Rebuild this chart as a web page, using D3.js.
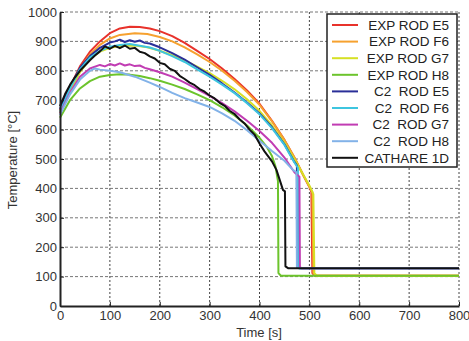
<!DOCTYPE html>
<html>
<head>
<meta charset="utf-8">
<script src="https://cdn.jsdelivr.net/npm/d3@7"></script>
<style>
  body { margin: 0; background: #fff; }
  text { font-family: "Liberation Sans", Arial, sans-serif; }
</style>
</head>
<body>
<script>
//tick labels
var xTicks = [0, 100, 200, 300, 400, 500, 600, 700, 800];
var yTicks = [0, 100, 200, 300, 400, 500, 600, 700, 800, 900, 1000];

//legend names
var seriesNames = ["EXP ROD E5", "EXP ROD F6", "EXP ROD G7", "EXP ROD H8",
  "C2  ROD E5", "C2  ROD F6", "C2  ROD G7", "C2  ROD H8", "CATHARE 1D"];

//series values, [time s, temperature C]
var expE5 = [[0,665],[20,745],[40,815],[60,865],[80,900],[100,928],[120,944],[140,950],[160,949],[180,944],[200,935],[225,918],[250,895],[275,868],[300,840],[325,808],[350,772],[375,733],[400,688],[425,630],[450,565],[470,505],[490,437],[500,405],[504,388],[506,112],[511,103],[800,103]];
var expF6 = [[0,660],[20,738],[40,805],[60,855],[80,888],[100,910],[120,922],[150,928],[175,925],[200,915],[225,900],[250,880],[275,856],[300,830],[325,800],[350,766],[375,728],[400,684],[425,628],[450,565],[470,505],[490,438],[500,406],[506,388],[508,112],[513,103],[800,103]];
var expG7 = [[0,655],[20,730],[40,795],[60,840],[80,865],[100,878],[125,885],[150,886],[175,880],[200,868],[225,853],[250,835],[275,814],[300,792],[325,766],[350,737],[375,703],[400,664],[425,614],[450,556],[470,500],[490,440],[500,410],[508,380],[510,112],[515,103],[800,103]];
var expH8 = [[0,640],[20,700],[40,740],[60,765],[80,780],[100,786],[120,788],[140,787],[160,782],[180,775],[200,766],[225,753],[250,738],[275,720],[300,700],[325,676],[350,648],[375,614],[400,572],[415,540],[425,510],[432,475],[437,425],[438,112],[443,103],[800,103]];
var c2E5 = [[0,670],[20,745],[40,810],[60,850],[80,878],[100,896],[110,900],[120,906],[130,898],[140,904],[150,899],[160,903],[170,895],[180,893],[200,880],[225,860],[250,838],[275,812],[300,786],[325,757],[350,726],[375,692],[400,655],[425,608],[450,550],[470,490],[475,478],[476,132],[480,128],[800,128]];
var c2F6 = [[0,660],[20,740],[40,805],[60,845],[80,868],[100,882],[120,888],[140,891],[160,885],[180,879],[200,868],[225,850],[250,830],[275,805],[300,780],[325,753],[350,724],[375,690],[400,652],[425,605],[450,548],[470,488],[477,470],[478,132],[482,128],[800,128]];
var c2G7 = [[0,655],[20,725],[40,780],[60,808],[80,820],[90,815],[100,823],[110,818],[120,825],[130,818],[140,822],[150,816],[160,818],[170,810],[180,805],[200,795],[225,780],[250,760],[275,738],[300,715],[325,690],[350,662],[375,630],[400,595],[425,555],[450,505],[470,455],[480,440],[481,132],[485,128],[800,128]];
var c2H8 = [[0,650],[20,720],[40,770],[60,800],[70,808],[80,804],[100,800],[120,795],[150,780],[180,760],[200,745],[225,725],[250,707],[275,692],[300,677],[325,655],[350,630],[375,598],[400,562],[425,527],[450,494],[467,463],[474,455],[475,132],[480,128],[800,128]];
var cathare = [[0,680],[10,720],[20,752],[30,778],[40,800],[50,818],[60,836],[70,852],[80,866],[90,883],[100,875],[110,885],[120,877],[130,886],[140,875],[150,878],[160,865],[170,860],[180,849],[190,842],[200,827],[210,822],[220,807],[230,800],[240,783],[250,772],[260,760],[270,751],[280,738],[290,729],[300,716],[310,706],[320,691],[330,681],[340,664],[350,653],[360,635],[370,621],[380,600],[390,583],[400,553],[410,526],[425,492],[434,463],[447,395],[451,390],[452,135],[458,128],[800,128]];

var seriesData = [expE5, expF6, expG7, expH8, c2E5, c2F6, c2G7, c2H8, cathare];
var seriesColors = ["#e8322b", "#f6a12f", "#d6e024", "#6cc42c", "#2a2f98", "#3ec5df", "#c13cb3", "#82b2e8", "#111111"];

var width = 469, height = 341;

var svg = d3.select("body")
  .append("svg")
  .attr("width", width)
  .attr("height", height);

var x = d3.scaleLinear().domain([0, 800]).range([60, 459]);
var y = d3.scaleLinear().domain([0, 1000]).range([306, 12]);

//grid lines
svg.selectAll(".vgrid")
  .data(xTicks.slice(1))
  .enter()
  .append("line")
  .attr("x1", function(d) { return x(d); })
  .attr("x2", function(d) { return x(d); })
  .attr("y1", y(0))
  .attr("y2", y(1000))
  .attr("stroke", "#444")
  .attr("stroke-width", 1)
  .attr("stroke-dasharray", "2,2");

svg.selectAll(".hgrid")
  .data(yTicks.slice(1))
  .enter()
  .append("line")
  .attr("x1", x(0))
  .attr("x2", x(800))
  .attr("y1", function(d) { return y(d); })
  .attr("y2", function(d) { return y(d); })
  .attr("stroke", "#777")
  .attr("stroke-width", 1)
  .attr("stroke-dasharray", "3,2");

//curves
var line = d3.line()
  .x(function(d) { return x(d[0]); })
  .y(function(d) { return y(d[1]); });

svg.selectAll(".curve")
  .data(seriesData)
  .enter()
  .append("path")
  .attr("class", "curve")
  .attr("d", line)
  .attr("fill", "none")
  .attr("stroke", function(d, i) { return seriesColors[i]; })
  .attr("stroke-width", 2)
  .attr("stroke-linejoin", "round");

//axes
var xAxis = svg.append("g")
  .attr("transform", "translate(0," + y(0) + ")")
  .call(d3.axisBottom(x).tickValues(xTicks).tickSizeInner(-4).tickSizeOuter(0).tickPadding(5).tickFormat(d3.format("d")));

var yAxis = svg.append("g")
  .attr("transform", "translate(" + x(0) + ",0)")
  .call(d3.axisLeft(y).tickValues(yTicks).tickSizeInner(-4).tickSizeOuter(0).tickPadding(3).tickFormat(d3.format("d")));

[xAxis, yAxis].forEach(function(g) {
  g.select(".domain").attr("stroke", "#222").attr("stroke-width", 2);
  g.selectAll(".tick line").attr("stroke", "#222");
  g.selectAll(".tick text")
    .attr("fill", "#333")
    .style("font-size", "13px")
    .style("font-family", "'Liberation Sans', Arial, sans-serif");
});

//axis titles
svg.append("text")
  .attr("x", 259)
  .attr("y", 337)
  .attr("text-anchor", "middle")
  .attr("fill", "#333")
  .style("font-size", "13px")
  .text("Time [s]");

svg.append("text")
  .attr("transform", "translate(17,160) rotate(-90)")
  .attr("text-anchor", "middle")
  .attr("fill", "#333")
  .style("font-size", "13px")
  .text("Temperature [°C]");

//legend
var legend = svg.append("g");

legend.append("rect")
  .attr("x", 327)
  .attr("y", 14)
  .attr("width", 130)
  .attr("height", 153)
  .attr("fill", "#fff")
  .attr("stroke", "#222")
  .attr("stroke-width", 1.5);

var items = legend.selectAll(".item")
  .data(seriesNames)
  .enter()
  .append("g")
  .attr("transform", function(d, i) { return "translate(0," + (25 + i * 16.6) + ")"; });

items.append("line")
  .attr("x1", 332)
  .attr("x2", 358)
  .attr("stroke", function(d, i) { return seriesColors[i]; })
  .attr("stroke-width", 2);

items.append("text")
  .attr("x", 449)
  .attr("dy", "0.36em")
  .attr("text-anchor", "end")
  .attr("fill", "#222")
  .style("font-size", "13.5px")
  .style("white-space", "pre")
  .text(function(d) { return d; });
</script>
</body>
</html>
